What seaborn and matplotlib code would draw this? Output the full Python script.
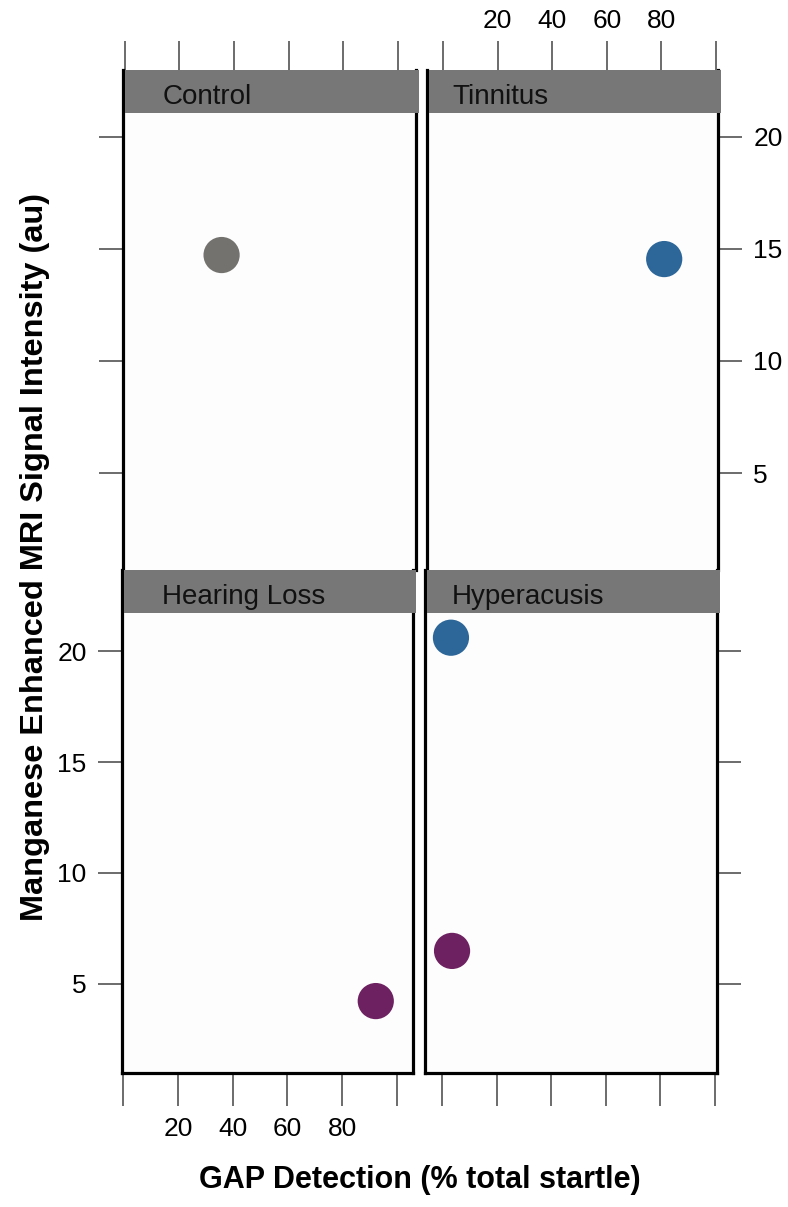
import numpy as np
import pandas as pd
import matplotlib.pyplot as plt
from matplotlib.patches import Rectangle
import seaborn as sns

# values
groups = ["Control", "Tinnitus", "Hearing Loss", "Hyperacusis", "Hyperacusis"]
gap_detection = [35.5, 81.0, 92.3, 3.3, 3.7]
mri_signal = [14.73, 14.55, 4.23, 20.6, 6.49]
subgroup = ["control", "tinnitus", "hearing loss", "tinnitus", "hearing loss"]

panel_order = ["Control", "Tinnitus", "Hearing Loss", "Hyperacusis"]
x_ticks = [0, 20, 40, 60, 80, 100]
x_ticklabels = ["", "20", "40", "60", "80", ""]
y_ticks = [5, 10, 15, 20]
y_ticklabels = ["5", "10", "15", "20"]

palette = {"control": "#74726f", "tinnitus": "#2d6698", "hearing loss": "#6d2160"}
strip_col = "#777777"

df = pd.DataFrame({"group": groups, "gap": gap_detection,
                   "mri": mri_signal, "kind": subgroup})

sns.set_style("white")
plt.rcParams['font.family'] = ['Liberation Sans', 'DejaVu Sans']
plt.rcParams['text.color'] = 'black'
plt.rcParams['xtick.labelcolor'] = 'black'
plt.rcParams['ytick.labelcolor'] = 'black'

g = sns.FacetGrid(df, col="group", col_wrap=2, col_order=panel_order,
                  sharex=False, sharey=False, height=5, aspect=0.6,
                  despine=False)
g.map_dataframe(sns.scatterplot, x="gap", y="mri", hue="kind",
                palette=palette, s=680, edgecolor="none", legend=False)

fig = g.figure
fig.set_size_inches(7.88, 12.07)
W, H = 788.0, 1207.0

def rect(x0, y0, x1, y1):
    return [x0 / W, 1 - y1 / H, (x1 - x0) / W, (y1 - y0) / H]

# panel boxes in pixels (incl. strip) and limits
layout = {
    "Control":      dict(box=(123, 70, 416, 570), xlim=(-0.55, 106.6), ylim=(0.67, 22.99), txt=40),
    "Tinnitus":     dict(box=(427, 70, 718, 570), xlim=(-5.86, 100.7), ylim=(0.67, 22.99), txt=25),
    "Hearing Loss": dict(box=(122, 570, 413, 1073), xlim=(-0.4, 105.9), ylim=(0.99, 23.65), txt=40),
    "Hyperacusis":  dict(box=(425, 570, 717, 1073), xlim=(-6.2, 100.7), ylim=(0.99, 23.65), txt=27),
}

for name, ax in g.axes_dict.items():
    L = layout[name]
    x0, y0, x1, y1 = L["box"]
    ax.set_position(rect(*L["box"]))
    ax.set_xlim(*L["xlim"])
    ax.set_ylim(*L["ylim"])
    ax.set_facecolor("#fdfdfd")
    ax.set_title("")
    ax.set_xlabel("")
    ax.set_ylabel("")
    ax.set_xticks(x_ticks)
    ax.set_xticklabels(x_ticklabels)
    ax.set_yticks(y_ticks)
    ax.set_yticklabels(y_ticklabels)

    top_row = name in ("Control", "Tinnitus")
    left_col = name in ("Control", "Hearing Loss")

    for s in ax.spines.values():
        s.set_visible(True)
        s.set_color("black")
        s.set_linewidth(2.3)
    ax.spines["top"].set_visible(False)
    if top_row:
        ax.spines["bottom"].set_visible(False)

    ax.tick_params(axis="x", direction="out", width=1.1, color="#444444",
                   labelsize=19, top=top_row, bottom=not top_row,
                   labeltop=(name == "Tinnitus"),
                   labelbottom=(name == "Hearing Loss"),
                   length=21 if top_row else 24, pad=6 if top_row else 8)
    ax.tick_params(axis="y", direction="out", width=1.1, color="#444444",
                   labelsize=19, left=left_col, right=not left_col,
                   labelleft=(name == "Hearing Loss"),
                   labelright=(name == "Tinnitus"),
                   length=17, pad=8.5)

    # strip on top of each panel (covers the right border, not the left)
    wpx = x1 - x0
    hpx = y1 - y0
    sh = 43.0 / hpx
    ax.add_patch(Rectangle((1.6 / wpx, 1 - sh), 1 + 1.0 / wpx, sh,
                           transform=ax.transAxes,
                           facecolor=strip_col, edgecolor="none",
                           clip_on=False, zorder=3))
    ax.text(L["txt"] / wpx, 1 - sh / 2 - 5.0 / hpx, name,
            transform=ax.transAxes, fontsize=20, color="#111111",
            ha="left", va="center", zorder=4)

fig.text(420 / W, 1 - 1180 / H, "GAP Detection (% total startle)",
         ha="center", va="center", fontsize=22, fontweight="bold")
fig.text(35 / W, 1 - 557 / H, "Manganese Enhanced MRI Signal Intensity (au)",
         ha="center", va="center", rotation=90, fontsize=23.4, fontweight="bold")

fig.savefig("out.png", dpi=100, facecolor="white")
